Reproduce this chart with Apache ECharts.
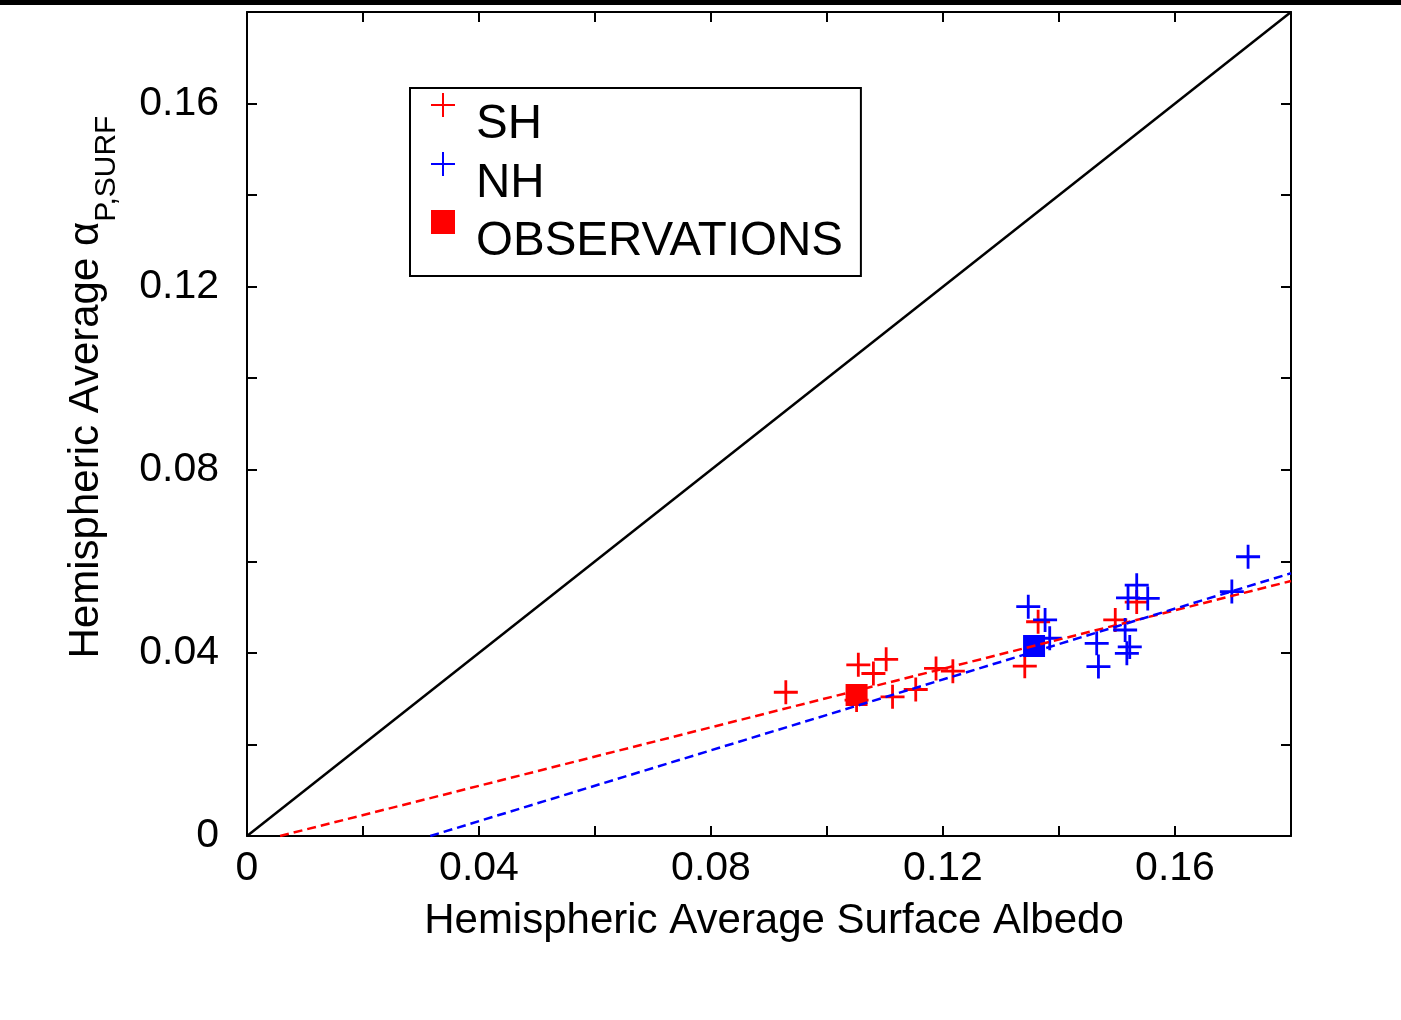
<!DOCTYPE html>
<html>
<head>
<meta charset="utf-8">
<script src="https://cdn.jsdelivr.net/npm/echarts@6/dist/echarts.min.js"></script>
<style>
    html, body { margin: 0; padding: 0; background: #fff; }
    #chart { width: 1401px; height: 1020px; }
</style>
</head>
<body>
<div id="chart"></div>
<script>
// SH models (red plus)
var shX = [0.0929, 0.1054, 0.1051, 0.1080, 0.1102, 0.1113, 0.1153, 0.1188, 0.1217, 0.1341, 0.1364, 0.1497, 0.1534];
var shY = [0.0314, 0.0374, 0.0297, 0.0355, 0.0386, 0.0304, 0.0320, 0.0366, 0.0360, 0.0371, 0.0468, 0.0472, 0.0511];
// NH models (blue plus)
var nhX = [0.1347, 0.1376, 0.1384, 0.1465, 0.1468, 0.1514, 0.1522, 0.1517, 0.1534, 0.1519, 0.1553, 0.1698, 0.1726];
var nhY = [0.0501, 0.0472, 0.0432, 0.0421, 0.0370, 0.0450, 0.0413, 0.0399, 0.0548, 0.0520, 0.0519, 0.0534, 0.0610];
// observations: SH then NH
var obsX = [0.1051, 0.1357];
var obsY = [0.0308, 0.0415];
// 1:1 line and the two fits (end points)
var oneToOne = [[0, 0], [0.18, 0.18]];
var shFit = [[0.0057, 0], [0.18, 0.0557]];
var nhFit = [[0.0316, 0], [0.18, 0.0574]];
var tickLabels = ['0', '0.04', '0.08', '0.12', '0.16'];

function pairs(xs, ys) {
    return xs.map(function(x, i) { return [x, ys[i]]; });
}

var font = "'Liberation Sans', Arial, sans-serif";
var plus = 'path://M0,10L20,10M10,0L10,20';
// legend icons: marker sits above the label, like the matlab legend
var plusIcon = 'path://M0,10L20,10M10,0L10,20M10,53.3L10,53.3';
var squareIcon = 'path://M0,0L20,0L20,20L0,20Z M10,53.3L10,53.3';

function label(v) {
    for (var i = 0; i < tickLabels.length; i++) {
        if (Math.abs(parseFloat(tickLabels[i]) - v) < 1e-9) return tickLabels[i];
    }
    return '';
}

function axis(pos, showLabel, extra) {
    var a = {
        type: 'value',
        position: pos,
        min: 0,
        max: 0.18,
        interval: 0.02,
        splitLine: { show: false },
        axisLine: { show: true, onZero: false, lineStyle: { color: '#000', width: 2 } },
        axisTick: { show: true, inside: true, length: 10, lineStyle: { color: '#000', width: 2 } },
        axisLabel: {
            show: showLabel,
            formatter: label,
            color: '#000',
            fontFamily: font,
            fontSize: 41,
            margin: pos === 'bottom' ? 12 : 28,
            showMaxLabel: false
        }
    };
    for (var k in extra) a[k] = extra[k];
    return a;
}

var myChart = echarts.init(document.getElementById('chart'));
var option = {
    animation: false,
    backgroundColor: '#fff',
    grid: { left: 247, top: 12, right: 110, bottom: 184, containLabel: false },
    graphic: [{
        type: 'rect',
        left: 0,
        top: 0,
        shape: { width: 1401, height: 5 },
        style: { fill: '#000' }
    }],
    legend: {
        orient: 'vertical',
        left: 410,
        top: 88,
        data: [
            { name: 'SH', icon: plusIcon },
            { name: 'NH', icon: plusIcon },
            { name: 'OBSERVATIONS', icon: squareIcon }
        ],
        itemWidth: 24,
        itemHeight: 64,
        itemGap: -7,
        padding: [4, 18, 2, 20],
        borderColor: '#000',
        borderWidth: 2,
        borderRadius: 0,
        backgroundColor: '#fff',
        selectedMode: false,
        itemStyle: { borderWidth: 2 },
        textStyle: {
            color: '#000',
            fontFamily: font,
            fontSize: 47.5,
            padding: [0, 0, 0, 16]
        }
    },
    xAxis: [
        axis('bottom', true, {
            name: 'Hemispheric Average Surface Albedo',
            nameLocation: 'middle',
            nameGap: 64,
            nameTextStyle: { color: '#000', fontFamily: font, fontSize: 42, padding: [0, 0, 0, 10] }
        }),
        axis('top', false, {})
    ],
    yAxis: [
        axis('left', true, {
            name: '{m|Hemispheric Average α}{s|P,SURF}',
            nameLocation: 'middle',
            nameRotate: 90,
            nameGap: 140,
            nameTextStyle: {
                color: '#000',
                fontFamily: font,
                padding: [0, 0, 0, 74],
                rich: {
                    m: { fontFamily: font, fontSize: 42, lineHeight: 42, verticalAlign: 'top', color: '#000' },
                    s: { fontFamily: font, fontSize: 30, lineHeight: 30, verticalAlign: 'top', padding: [27, 0, 0, 0], color: '#000' }
                }
            }
        }),
        axis('right', false, {})
    ],
    series: [
        {
            name: 'SH',
            type: 'scatter',
            symbol: plus,
            symbolSize: 24,
            itemStyle: { color: '#ff0000', borderColor: '#ff0000', borderWidth: 2.8, opacity: 1 },
            emphasis: { disabled: true },
            data: pairs(shX, shY)
        },
        {
            name: 'NH',
            type: 'scatter',
            symbol: plus,
            symbolSize: 24,
            itemStyle: { color: '#0000ff', borderColor: '#0000ff', borderWidth: 2.8, opacity: 1 },
            emphasis: { disabled: true },
            data: pairs(nhX, nhY)
        },
        {
            name: 'OBSERVATIONS',
            type: 'scatter',
            symbol: 'rect',
            symbolSize: 22,
            itemStyle: { color: '#ff0000', borderWidth: 0, opacity: 1 },
            emphasis: { disabled: true },
            data: pairs(obsX, obsY).map(function(p, i) {
                return i === 0 ? { value: p } : { value: p, itemStyle: { color: '#0000ff' } };
            })
        },
        {
            name: 'fitSH',
            type: 'line',
            showSymbol: false,
            symbol: 'none',
            lineStyle: { color: '#ff0000', width: 2.5, type: [9, 5] },
            emphasis: { disabled: true },
            data: shFit
        },
        {
            name: 'fitNH',
            type: 'line',
            showSymbol: false,
            symbol: 'none',
            lineStyle: { color: '#0000ff', width: 2.5, type: [9, 5] },
            emphasis: { disabled: true },
            data: nhFit
        },
        {
            name: 'oneToOne',
            type: 'line',
            showSymbol: false,
            symbol: 'none',
            lineStyle: { color: '#000', width: 2.5 },
            emphasis: { disabled: true },
            data: oneToOne
        }
    ]
};
myChart.setOption(option, true);
</script>
</body>
</html>
